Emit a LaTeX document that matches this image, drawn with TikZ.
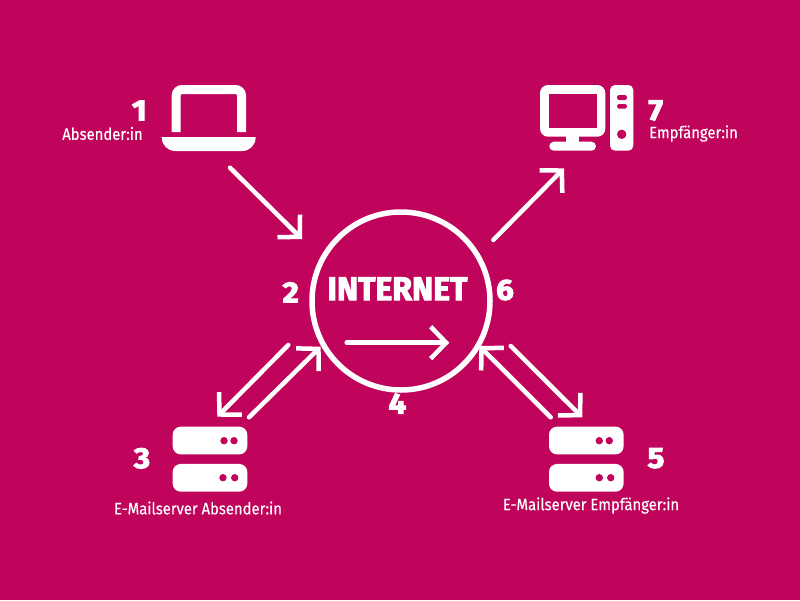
\documentclass[tikz,border=0pt]{standalone}
\usepackage{fontspec}
\usetikzlibrary{arrows.meta}
\newfontfamily\labelfont[FakeStretch=0.9,FakeBold=0.25]{Fira Sans}
\newfontfamily\heavyfont[FakeStretch=0.97,FakeBold=3]{Fira Sans}
\newfontfamily\numfont[FakeStretch=1.08,FakeBold=3.5]{Fira Sans}
\definecolor{bgpink}{HTML}{C0045B}
\tikzset{
	flow/.style={->,>={Straight Barb[length=15.5pt,width=32pt]},line width=4.5pt,color=white,line cap=round},
	stepnum/.style={text=white,font=\numfont\bfseries\fontsize{29}{29}\selectfont,inner sep=0pt},
	caption/.style={text=white,font=\labelfont\fontsize{16.5}{17}\selectfont,inner sep=0pt},
	serverbox/.style={draw=none,fill=white,rounded corners=8pt,minimum width=74.6pt,minimum height=27.7pt,inner sep=0pt},
	hole/.style={fill=bgpink}
}
\begin{document}
\begin{tikzpicture}[x=1pt,y=-1pt]
	\useasboundingbox (0,0) rectangle (800,600);
	\fill[bgpink] (0,0) rectangle (800,600);
	% laptop
	\draw[white,line width=9pt,rounded corners=6pt] (176.2,132) -- (176.2,89.5) -- (241.5,89.5) -- (241.5,132);
	\fill[white] (161.7,137) -- (255.7,137) .. controls (255.7,145) and (250,151) .. (242,151) -- (175.5,151) .. controls (167.5,151) and (161.7,145) .. (161.7,137) -- cycle;
	% computer
	\fill[white,rounded corners=8pt] (540,85) rectangle (605.3,136.7);
	\fill[hole] (549.3,94.3) rectangle (596.7,127.7);
	\fill[white] (566,136) rectangle (579,143);
	\fill[white,rounded corners=4.5pt] (549.3,141.7) rectangle (596,150.7);
	\fill[white,rounded corners=5pt] (610,85) rectangle (633.3,150.7);
	\fill[hole,rounded corners=2.3pt] (617,95) rectangle (627,100);
	\fill[hole,rounded corners=2.3pt] (617,104) rectangle (627,108.7);
	\fill[hole] (621.7,134.3) circle (4.7);
	% servers
	\node[serverbox] (s1) at (210,440.5){};
	\node[serverbox] (s2) at (210,477.8){};
	\node[serverbox] (s3) at (586.3,440.5){};
	\node[serverbox] (s4) at (586.3,477.8){};
	\fill[hole] (224,440.7) circle (3.7) (234,440.7) circle (3.7);
	\fill[hole] (223,477.7) circle (3.7) (234.7,477.7) circle (3.7);
	\fill[hole] (599.3,440.7) circle (3.7) (609.3,440.7) circle (3.7);
	\fill[hole] (599.3,477.7) circle (3.7) (610.7,477.7) circle (3.7);
	% internet
	\node[draw=white,circle,line width=5.5pt,minimum size=178pt,inner sep=0pt] (net) at (401,301){};
	\node[text=white,font=\heavyfont\bfseries\fontsize{33}{33}\selectfont,inner sep=0pt] (nettext) at (397.5,288.7){INTERNET};
	% numbers
	\node[stepnum] (n1) at (139.3,110.5){1};
	\node[stepnum] (n2) at (290.7,292.3){2};
	\node[stepnum] (n3) at (142,458.3){3};
	\node[stepnum] (n4) at (397.3,403.5){4};
	\node[stepnum] (n5) at (656,458.3){5};
	\node[stepnum] (n6) at (505,290){6};
	\node[stepnum] (n7) at (655.7,110.5){7};
	% captions
	\node[caption] (c1) at (102.5,133.5){Absender:in};
	\node[caption] (c7) at (693.5,133.5){Empf\"anger:in};
	\node[caption] (c3) at (198,508){E-Mailserver Absender:in};
	\node[caption] (c5) at (591,505.5){E-Mailserver Empf\"anger:in};
	% arrow ends
	\coordinate (a1) at (230,167.7);
	\coordinate (b1) at (302,239);
	\coordinate (a2) at (288.3,345);
	\coordinate (b2) at (217.3,416.7);
	\coordinate (a3) at (249,417.3);
	\coordinate (b3) at (320.7,346.7);
	\coordinate (a4) at (346.7,342.7);
	\coordinate (b4) at (449.3,342.7);
	\coordinate (a5) at (550.7,417.3);
	\coordinate (b5) at (479.3,346);
	\coordinate (a6) at (510.7,346);
	\coordinate (b6) at (582.3,417.3);
	\coordinate (a7) at (493.3,240);
	\coordinate (b7) at (564,168.3);
	\draw (a1) edge [flow] (b1);
	\draw (a2) edge [flow] (b2);
	\draw (a3) edge [flow] (b3);
	\draw (a4) edge [flow] (b4);
	\draw (a5) edge [flow] (b5);
	\draw (a6) edge [flow] (b6);
	\draw (a7) edge [flow] (b7);
\end{tikzpicture}
\end{document}
